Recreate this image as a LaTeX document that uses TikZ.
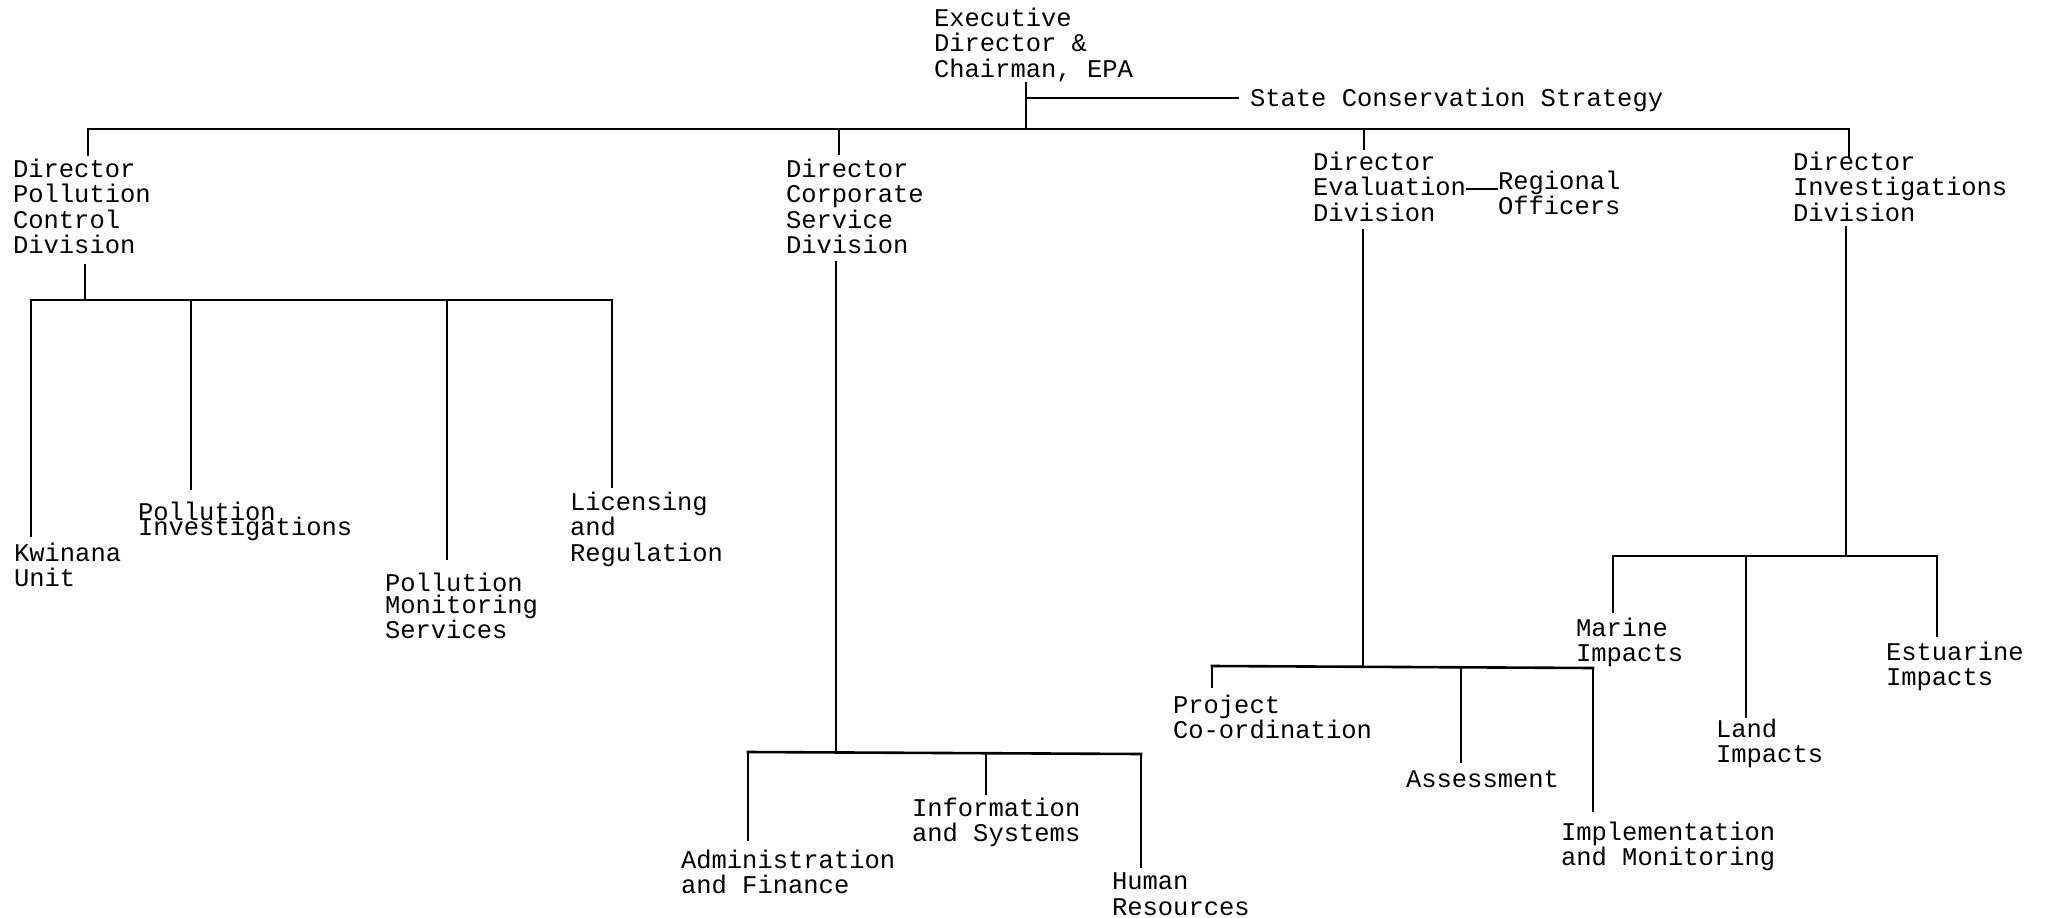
\documentclass[tikz,border=0pt]{standalone}
\usepackage{fontspec}
\newfontfamily\chartfont{Liberation Mono}
\begin{document}
\begin{tikzpicture}[x=1pt,y=-1pt,
  unit/.style={font=\chartfont\fontsize{25.5}{25.5}\selectfont,align=left,anchor=north west,inner sep=0pt,outer sep=0pt},
  link/.style={black,line width=2pt},
  bus/.style={black,line width=2.6pt,line cap=rect}]
\useasboundingbox (0,0) rectangle (2046,918);
\node[unit] (exec) at (934,8) {Executive\\[-0.2pt]Director \&\\[-0.2pt]Chairman, EPA};
\node[unit] (scs) at (1250,88) {State Conservation Strategy};
\node[unit] (pcd) at (13,159) {Director\\Pollution\\Control\\Division};
\node[unit] (csd) at (786,159) {Director\\Corporate\\Service\\Division};
\node[unit] (evd) at (1313,152) {Director\\Evaluation\\Division};
\node[unit] (reg) at (1498,171) {Regional\\Officers};
\node[unit] (ivd) at (1793,152) {Director\\Investigations\\Division};
\node[unit] (kwi) at (14,543) {Kwinana\\Unit};
\node[unit] (pin) at (138,502) {Pollution\\[-10.5pt]Investigations};
\node[unit] (pms) at (385,573) {Pollution\\[-3.5pt]Monitoring\\Services};
\node[unit] (lic) at (570,492) {Licensing\\and\\Regulation};
\node[unit] (adm) at (681,850) {Administration\\and Finance};
\node[unit] (inf) at (912,798) {Information\\and Systems};
\node[unit] (hum) at (1112,873) {Human\\Resources};
\node[unit] (prj) at (1173,695) {Project\\Co-ordination};
\node[unit] (ass) at (1406,771) {Assessment};
\node[unit] (imp) at (1561,822) {Implementation\\and Monitoring};
\node[unit] (mar) at (1576,618) {Marine\\Impacts};
\node[unit] (lnd) at (1716,719) {Land\\Impacts};
\node[unit] (est) at (1886,642) {Estuarine\\Impacts};
\coordinate (ex) at (1026,129);
\coordinate (exs) at (1026,98);
\coordinate (tpc) at (88,129);
\coordinate (tcs) at (839,129);
\coordinate (tev) at (1364,129);
\coordinate (tiv) at (1849,129);
\coordinate (pcj) at (85,300);
\coordinate (pc1) at (31,300);
\coordinate (pc2) at (191,300);
\coordinate (pc3) at (447,300);
\coordinate (pc4) at (612,300);
\coordinate (csj) at (836,752);
\coordinate (cs1) at (748,752);
\coordinate (cs2) at (986,753);
\coordinate (cs3) at (1141,754);
\coordinate (evj) at (1363,666);
\coordinate (ev1) at (1212,666);
\coordinate (ev2) at (1461,667);
\coordinate (ev3) at (1593,668);
\coordinate (ivj) at (1846,556);
\coordinate (iv1) at (1613,556);
\coordinate (iv2) at (1746,556);
\coordinate (iv3) at (1937,556);
\coordinate (rj) at (0,189);
\draw[bus] (tpc) -- (tiv);
\draw[link] (exec.south -| ex) -- (ex);
\draw[link,shorten >=11pt] (exs) -- (scs.west |- exs);
\draw[link,shorten >=3pt] (tpc) -- (pcd.north -| tpc);
\draw[link,shorten >=4pt] (tcs) -- (csd.north -| tcs);
\draw[link,shorten >=2pt] (tev) -- (evd.north -| tev);
\draw[link,shorten >=-5pt] (tiv) -- (ivd.north -| tiv);
\draw[link] (evd.east |- rj) -- (reg.west |- rj);
\draw[link,shorten <=10pt] (pcd.south -| pcj) -- (pcj);
\draw[bus] (pc1) -- (pc4);
\draw[link,shorten >=6pt] (pc1) -- (kwi.north -| pc1);
\draw[link,shorten >=12pt] (pc2) -- (pin.north -| pc2);
\draw[link,shorten >=13pt] (pc3) -- (pms.north -| pc3);
\draw[link,shorten >=4pt] (pc4) -- (lic.north -| pc4);
\draw[link,shorten <=7pt] (csd.south -| csj) -- (csj);
\draw[bus] (cs1) -- (cs3);
\draw[link,shorten >=9pt] (cs1) -- (adm.north -| cs1);
\draw[link,shorten >=3pt] (cs2) -- (inf.north -| cs2);
\draw[link,shorten >=5pt] (cs3) -- (hum.north -| cs3);
\draw[link,shorten <=7pt] (evd.south -| evj) -- (evj);
\draw[bus] (ev1) -- (ev3);
\draw[link,shorten >=7pt] (ev1) -- (prj.north -| ev1);
\draw[link,shorten >=8pt] (ev2) -- (ass.north -| ev2);
\draw[link,shorten >=10pt] (ev3) -- (imp.north -| ev3);
\draw[link,shorten <=4pt] (ivd.south -| ivj) -- (ivj);
\draw[bus] (iv1) -- (iv3);
\draw[link,shorten >=5pt] (iv1) -- (mar.north -| iv1);
\draw[link,shorten >=1pt] (iv2) -- (lnd.north -| iv2);
\draw[link,shorten >=5pt] (iv3) -- (est.north -| iv3);
\end{tikzpicture}
\end{document}
